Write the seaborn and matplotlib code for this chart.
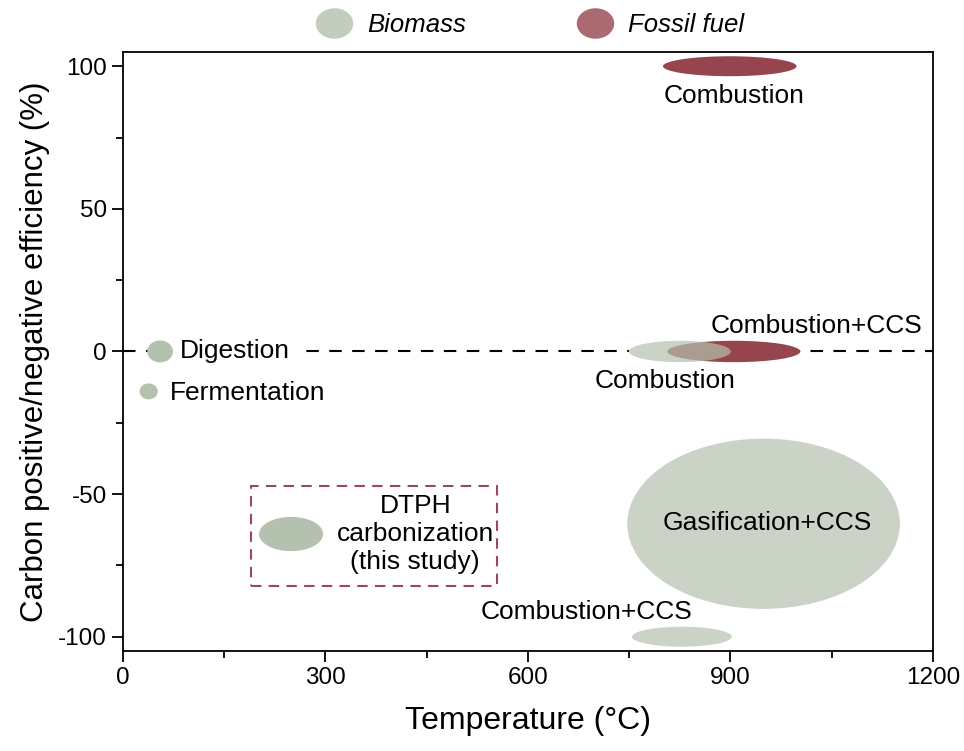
import matplotlib
matplotlib.use("Agg")
import matplotlib.pyplot as plt
from matplotlib.patches import Ellipse, Rectangle
from matplotlib.lines import Line2D
from matplotlib.path import Path
from matplotlib.transforms import Affine2D
import seaborn as sns

# Processes: centre temperature, temperature span, centre efficiency, efficiency span
process_names = ["Combustion", "Combustion+CCS", "Combustion", "Digestion",
                 "Fermentation", "DTPH carbonization", "Gasification+CCS",
                 "Combustion+CCS"]
feedstock = ["Fossil fuel", "Fossil fuel", "Biomass", "Biomass",
             "Biomass", "Biomass", "Biomass", "Biomass"]
temp_center = [899, 905, 825, 55, 38, 249, 949, 828]
temp_span = [198, 197, 151, 38, 27, 95, 404, 148]
eff_center = [100, 0, 0, 0, -14, -64, -60.4, -100]
eff_span = [7, 7.5, 7.5, 7.7, 5.6, 12, 59.7, 7]

# Text labels for the processes
label_text = ["Combustion", "Combustion+CCS", "Combustion", "Digestion",
              "Fermentation", "DTPH\ncarbonization\n(this study)",
              "Gasification+CCS", "Combustion+CCS"]
label_x = [905, 1028, 803, 84, 70, 433, 954, 687]
label_y = [89.5, 9.1, -10.2, 0, -14.4, -64, -60, -91.2]
label_ha = ["center", "center", "center", "left", "left", "center", "center", "center"]

# Highlighted study region
box_x = [190, 554]
box_y = [-82.1, -47]

x_ticks = [0, 300, 600, 900, 1200]
y_ticks = [-100, -50, 0, 50, 100]

sns.set_theme(style="ticks")
plt.rcParams["font.family"] = ["Liberation Sans", "DejaVu Sans"]
plt.rcParams["axes.unicode_minus"] = False

colors = {"Biomass": "#b4c1ae", "Fossil fuel": "#96454f"}
translucent = {2, 6, 7}

fig = plt.figure(figsize=(9.64, 7.51), dpi=100)
ax = fig.add_axes([0.1276, 0.1332, 0.8402, 0.7976])

ax.axhline(0, color="black", lw=1.5, ls=(0, (6, 5)), zorder=1)

# Fossil ellipses first so the biomass combustion overlays them translucently
order = [0, 1, 3, 4, 5, 6, 7, 2]
for i in order:
    kind = feedstock[i]
    alpha = 0.7 if i in translucent else 1.0
    if alpha < 1:
        ax.add_patch(Ellipse((temp_center[i], eff_center[i]), temp_span[i],
                             eff_span[i], facecolor="white", edgecolor="none",
                             zorder=2))
    ax.add_patch(Ellipse((temp_center[i], eff_center[i]), temp_span[i],
                         eff_span[i], facecolor=colors[kind], edgecolor="none",
                         alpha=alpha, zorder=3))

ax.add_patch(Rectangle((box_x[0], box_y[0]), box_x[1] - box_x[0],
                       box_y[1] - box_y[0], fill=False, edgecolor="#9b4a55",
                       lw=1.5, ls=(0, (5, 3.5)), zorder=4))

for t, x, y, ha in zip(label_text, label_x, label_y, label_ha):
    kw = {"zorder": 5}
    if t == "Digestion":
        # white backing hides the zero line around the label, kept below the ellipses
        kw["bbox"] = dict(facecolor="white", edgecolor="none", pad=10)
        kw["zorder"] = 2.5
    ax.text(x, y, t, ha=ha, va="center", fontsize=19, color="black",
            linespacing=1.2, **kw)

ax.set_xlim(0, 1200)
ax.set_ylim(-105, 105)
ax.set_xticks(x_ticks)
ax.set_yticks(y_ticks)
ax.set_xticks([150, 450, 750, 1050], minor=True)
ax.set_yticks([-75, -25, 25, 75], minor=True)
ax.tick_params(axis="both", which="major", direction="out", length=8,
               width=1.3, labelsize=17.5, color="black", labelcolor="black",
               top=False, right=False)
ax.tick_params(axis="both", which="minor", direction="out", length=5,
               width=1.3, color="black", top=False, right=False)
for s in ax.spines.values():
    s.set_linewidth(1.3)
    s.set_color("black")

ax.set_xlabel("Temperature (°C)", fontsize=23, labelpad=12, color="black")
ax.set_ylabel("Carbon positive/negative efficiency (%)", fontsize=22.5,
              labelpad=6, color="black")

# Legend with elliptical markers
circle = Path.unit_circle()
oval = circle.transformed(Affine2D().scale(1.23, 1.0))
handles = [Line2D([], [], ls="none", marker=oval, markersize=27,
                  markerfacecolor=colors[k], markeredgecolor="none", alpha=0.8,
                  label=k) for k in ["Biomass", "Fossil fuel"]]
leg = ax.legend(handles=handles, loc="center", bbox_to_anchor=(0.498, 1.045),
                ncol=2, frameon=False, fontsize=18.5, handletextpad=0.3,
                columnspacing=4.0, borderaxespad=0)
for t in leg.get_texts():
    t.set_fontstyle("italic")
    t.set_color("black")

fig.savefig("out.png", dpi=100)
